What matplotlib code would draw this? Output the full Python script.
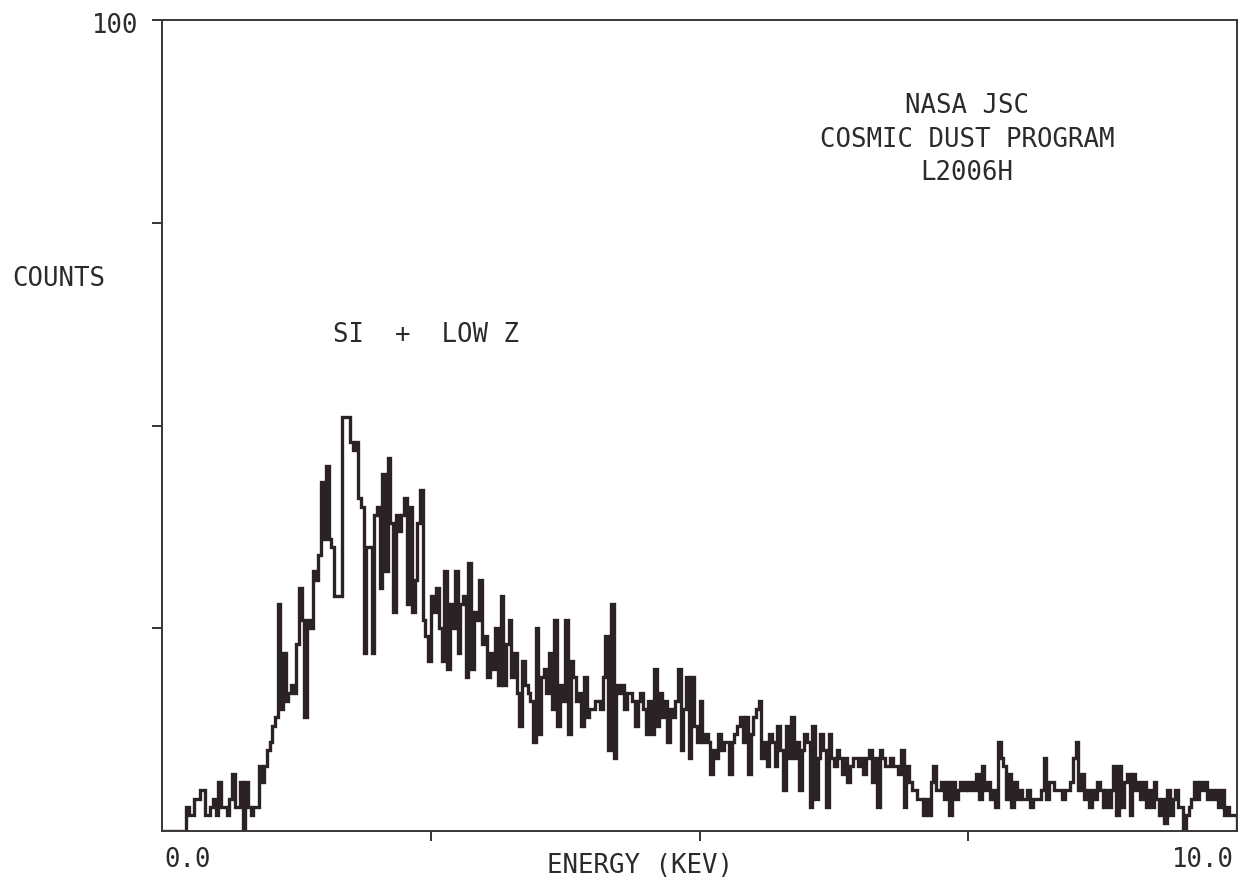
import numpy as np
import matplotlib.pyplot as plt

# EDS spectrum, 0.025 keV per channel, counts
ch_width = 0.025
c0 = [0, 0, 0, 0, 0, 0, 0, 0, 0, 3, 2, 2, 4, 4, 5, 5, 2, 2, 3, 4,
      2, 6, 3, 3, 2, 4, 7, 3, 3, 6, 0, 6, 3, 2, 3, 3, 8, 6, 8, 10]
c1 = [11, 13, 14, 28, 15, 22, 16, 17, 18, 17, 23, 30, 26, 14, 26, 25, 32, 31, 34, 43,
      36, 45, 36, 35, 29, 29, 29, 51, 51, 51, 48, 47, 48, 41, 40, 22, 35, 35, 22, 39]
c2 = [40, 30, 44, 32, 46, 38, 27, 39, 37, 39, 41, 28, 40, 27, 31, 38, 42, 26, 24, 21,
      29, 27, 30, 25, 21, 32, 20, 28, 25, 32, 22, 28, 29, 19, 33, 20, 27, 26, 31, 23]
c3 = [24, 19, 22, 20, 25, 18, 29, 18, 23, 26, 19, 22, 17, 13, 21, 18, 17, 16, 11, 25,
      12, 19, 20, 17, 22, 15, 26, 13, 18, 16, 26, 12, 21, 19, 16, 17, 13, 19, 14, 15]
c4 = [15, 16, 16, 15, 19, 24, 10, 28, 9, 18, 17, 18, 15, 17, 17, 16, 13, 16, 17, 15,
      12, 16, 12, 20, 13, 17, 14, 16, 11, 15, 14, 16, 20, 10, 15, 19, 9, 19, 13, 11]
c5 = [16, 11, 12, 11, 7, 10, 9, 12, 10, 11, 11, 7, 11, 12, 13, 14, 11, 14, 7, 12,
      14, 15, 16, 9, 11, 8, 12, 11, 8, 13, 10, 5, 13, 9, 14, 9, 11, 5, 10, 12]
c6 = [11, 3, 13, 4, 9, 12, 10, 3, 12, 9, 8, 10, 9, 7, 9, 6, 8, 9, 9, 8,
      9, 7, 9, 10, 6, 9, 3, 10, 9, 8, 8, 9, 8, 8, 7, 10, 3, 8, 6, 5]
c7 = [5, 4, 4, 2, 4, 2, 6, 8, 5, 5, 6, 4, 6, 2, 6, 4, 5, 6, 5, 6,
      5, 6, 5, 7, 4, 8, 5, 6, 4, 5, 3, 11, 9, 8, 4, 7, 3, 6, 4, 5]
c8 = [4, 4, 5, 3, 4, 4, 4, 5, 9, 4, 6, 6, 5, 5, 5, 4, 5, 5, 6, 9,
      11, 5, 7, 4, 5, 3, 5, 4, 6, 5, 3, 5, 3, 5, 8, 2, 8, 3, 6, 7]
c9 = [2, 7, 5, 6, 4, 6, 3, 5, 3, 6, 4, 2, 4, 1, 5, 2, 4, 5, 3, 3,
      0, 2, 3, 4, 6, 4, 6, 5, 6, 4, 5, 4, 5, 3, 5, 2, 3, 2, 2, 2]

counts = np.array(c0 + c1 + c2 + c3 + c4 + c5 + c6 + c7 + c8 + c9, dtype=float)
edges = np.arange(len(counts) + 1) * ch_width

W, H = 1239, 884
fig = plt.figure(figsize=(W / 100, H / 100), dpi=100)
ax = fig.add_axes([162 / W, 1 - 831 / H, 1075 / W, 811 / H])

ink = '#2b2226'
ax.stairs(counts, edges, baseline=0, color=ink, lw=2.4)

ax.set_xlim(0, 10)
ax.set_ylim(0, 100)
ax.set_xticks([2.5, 5.0, 7.5])
ax.set_yticks([25, 50, 75, 100])
ax.tick_params(axis='both', direction='out', length=7, width=1.3, color=ink,
               labelbottom=False, labelleft=False)
for s in ax.spines.values():
    s.set_color('#3a3538')
    s.set_linewidth(1.4)

font = dict(family='DejaVu Sans Mono', color='#2b2b2b', fontsize=18.5)

def px(x, y):
    return x / W, 1 - y / H

fig.text(*px(138, 26), '100', ha='right', va='center', **font)
fig.text(*px(12, 279), 'COUNTS', ha='left', va='center', **font)
fig.text(*px(333, 335), 'SI  +  LOW Z', ha='left', va='center', **font)
fig.text(*px(967, 106), 'NASA JSC', ha='center', va='center', **font)
fig.text(*px(967, 140), 'COSMIC DUST PROGRAM', ha='center', va='center', **font)
fig.text(*px(967, 173), 'L2006H', ha='center', va='center', **font)
fig.text(*px(164, 860), '0.0', ha='left', va='center', **font)
fig.text(*px(640, 866), 'ENERGY (KEV)', ha='center', va='center', **font)
fig.text(*px(1234, 860), '10.0', ha='right', va='center', **font)

fig.savefig('out.png', dpi=100, facecolor='white')
